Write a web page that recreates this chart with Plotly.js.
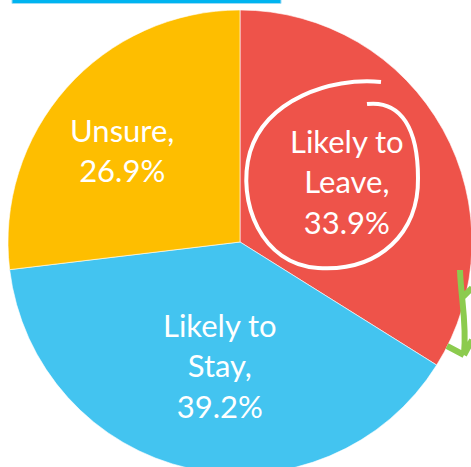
<!DOCTYPE html>
<html>
<head>
<meta charset="utf-8">
<script src="https://cdn.plot.ly/plotly-3.0.1.min.js"></script>
<style>
html,body{margin:0;padding:0;overflow:hidden;background:#fff;width:471px;height:467px;}
#chart{position:absolute;left:0;top:0;width:480px;height:484px;}
</style>
</head>
<body>
<div id="chart"></div>
<script>
const categories = ["Likely to Leave", "Likely to Stay", "Unsure"];
const labelLines = [["Likely to", "Leave,"], ["Likely to", "Stay,"], ["Unsure,"]];
const values = [33.9, 39.2, 26.9];
const colors = ["#EE534A", "#43C4F0", "#FEBE00"];

const W = 480, H = 484, ML = 8, MT = 10, PW = 464, PH = 464;
const px = x => (x - ML) / PW;
const py = y => 1 - (y - MT) / PH;
const P = (x, y) => px(x).toFixed(4) + "," + py(y).toFixed(4);

const labelPos = [[347, 181], [220, 365], [122, 150]];
const annotations = categories.map((c, i) => ({
  xref: "paper", yref: "paper",
  x: px(labelPos[i][0]), y: py(labelPos[i][1]),
  xanchor: "center", yanchor: "middle",
  text: labelLines[i].join("<br>") + "<br>" + values[i].toFixed(1) + "%",
  showarrow: false,
  font: {family: "Lato, 'Noto Sans', sans-serif", size: 31, color: "#ffffff"},
  align: "center"
}));

const circlePath = "M " + P(381, 82) +
  " C " + P(330, 77) + " " + P(266, 100) + " " + P(250, 152) +
  " C " + P(236, 202) + " " + P(262, 265) + " " + P(318, 268) +
  " C " + P(380, 272) + " " + P(419, 232) + " " + P(418, 178) +
  " C " + P(418, 130) + " " + P(402, 100) + " " + P(367, 104);

const arrowPath = "M " + P(460, 270) +
  " C " + P(461, 300) + " " + P(467, 322) + " " + P(464, 354) +
  " M " + P(464, 355) + " L " + P(447, 346) +
  " M " + P(464, 355) + " L " + P(472, 340) +
  " M " + P(463, 297) + " L " + P(472, 288);

const shapes = [
  {type: "rect", xref: "paper", yref: "paper", x0: px(12), x1: px(281), y0: py(3.5), y1: py(-2),
   fillcolor: "#00B4F0", line: {color: "#9EDCF5", width: 1}},
  {type: "path", xref: "paper", yref: "paper", path: circlePath,
   line: {color: "#ffffff", width: 4}},
  {type: "path", xref: "paper", yref: "paper", path: arrowPath,
   line: {color: "#8CCB4E", width: 6}}
];

Plotly.newPlot("chart", [{
  type: "pie",
  labels: categories,
  values: values,
  sort: false,
  direction: "clockwise",
  rotation: 0,
  marker: {colors: colors, line: {color: "#ffffff", width: 0.6}},
  textinfo: "none",
  hoverinfo: "none",
  domain: {x: [0, 1], y: [0, 1]}
}], {
  width: W, height: H,
  margin: {l: ML, r: W - ML - PW, t: MT, b: H - MT - PH},
  showlegend: false,
  paper_bgcolor: "#ffffff",
  annotations: annotations,
  shapes: shapes
}, {staticPlot: true});
</script>
</body>
</html>
